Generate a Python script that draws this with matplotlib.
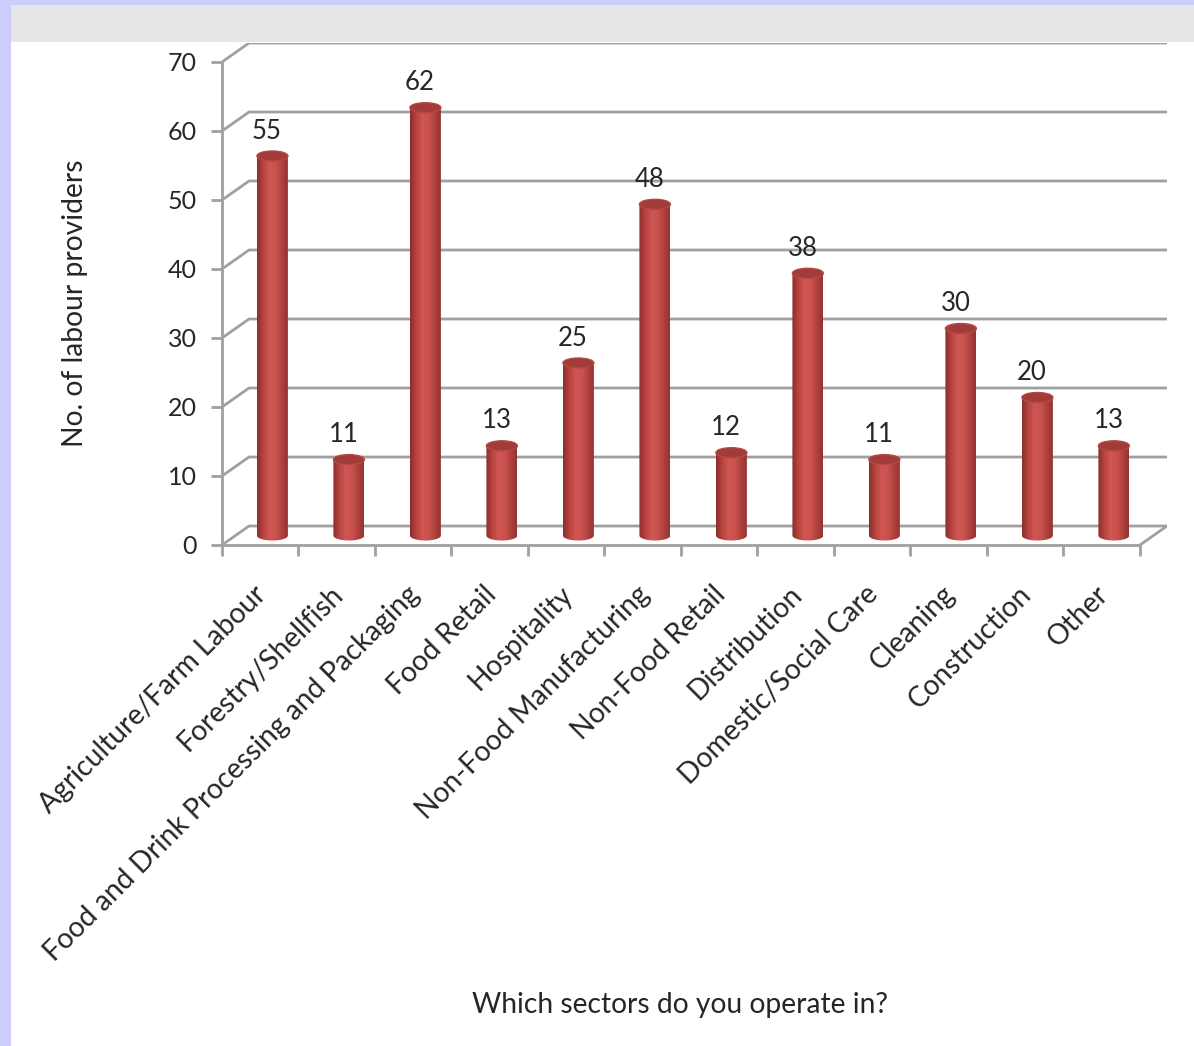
import matplotlib
matplotlib.use("Agg")
import matplotlib.pyplot as plt
import matplotlib.transforms as mtransforms
import numpy as np
from matplotlib.patches import Rectangle, Ellipse, PathPatch
from matplotlib.path import Path
from matplotlib.colors import LinearSegmentedColormap

plt.rcParams['font.family'] = ['Lato', 'DejaVu Sans']

sectors = ['Agriculture/Farm Labour', 'Forestry/Shellfish',
           'Food and Drink Processing and Packaging', 'Food Retail',
           'Hospitality', 'Non-Food Manufacturing', 'Non-Food Retail',
           'Distribution', 'Domestic/Social Care', 'Cleaning',
           'Construction', 'Other']
providers = [55, 11, 62, 13, 25, 48, 12, 38, 11, 30, 20, 13]
y_ticks = [0, 10, 20, 30, 40, 50, 60, 70]

W, H = 1194, 1046
fig = plt.figure(figsize=(W / 100, H / 100), dpi=100, facecolor='#ccccff')

# page background: white panel with a grey band on top
fig.add_artist(Rectangle((11 / W, 0), 1, 1 - 42 / H, transform=fig.transFigure,
                         facecolor='white', edgecolor='none', zorder=-10))
fig.add_artist(Rectangle((11 / W, 1 - 42 / H), 1, 37 / H, transform=fig.transFigure,
                         facecolor='#e6e6e6', edgecolor='none', zorder=-10))

n = len(sectors)
dx, dy = 0.353, 2.75          # depth offset of back wall (category units, value units)
bw = 0.405                     # cylinder width
eh = 1.45                      # ellipse height of caps
grid_c = '#a0a0a0'
txt_c = '#262626'

ax = fig.add_axes([222 / W, 1 - 545 / H, 945 / W, 502 / H])
ax.set_facecolor('none')

# back wall grid lines with diagonal on the side wall
for v in y_ticks:
    ax.plot([0, dx, n + dx], [v, v + dy, v + dy], color=grid_c, lw=2, zorder=1,
            solid_capstyle='butt')
# floor right edge
ax.plot([n + dx, n], [dy, 0], color=grid_c, lw=2, zorder=1)

for s in ['top', 'right']:
    ax.spines[s].set_visible(False)
for s in ['left', 'bottom']:
    ax.spines[s].set_color(grid_c)
    ax.spines[s].set_linewidth(2)
ax.spines['left'].set_bounds(0, y_ticks[-1])
ax.spines['bottom'].set_bounds(0, n)

ax.set_yticks(y_ticks)
ax.set_yticklabels([str(v) for v in y_ticks], fontsize=18, color=txt_c)
ax.set_xticks(np.arange(n + 1))
ax.set_xticklabels([])
ax.tick_params(axis='both', which='major', length=8, width=2, color=grid_c)
ax.tick_params(axis='y', pad=10)

# category labels, rotated 45 degrees
lab_tr = mtransforms.blended_transform_factory(ax.transData, ax.transAxes) + \
    mtransforms.ScaledTranslation(-7 / 100, -36 / 100, fig.dpi_scale_trans)
for i, name in enumerate(sectors):
    ax.text(i + 0.5, 0, name, transform=lab_tr, rotation=45, ha='right', va='top',
            rotation_mode='anchor', fontsize=20.3, color=txt_c)

# cylinders
cmap = LinearSegmentedColormap.from_list(
    'cyl', ['#8a2e2c', '#b8433f', '#cf5652', '#cb534f', '#b1423f', '#923431'])
grad = np.linspace(0, 1, 64).reshape(1, -1)
for i, v in enumerate(providers):
    cx = i + 0.5 + dx * 0.45
    yb = dy / 2
    yt = v + dy / 2
    x0, x1 = cx - bw / 2, cx + bw / 2
    t = np.linspace(np.pi, 2 * np.pi, 40)
    bottom = np.column_stack([cx + (bw / 2) * np.cos(t)[::-1] * -1,
                              yb + (eh / 2) * np.sin(t)])
    bottom = bottom[np.argsort(bottom[:, 0])]
    verts = np.vstack([[x0, yt], bottom, [x1, yt], [x0, yt]])
    body = PathPatch(Path(verts), facecolor='none', edgecolor='none',
                     transform=ax.transData)
    ax.add_patch(body)
    im = ax.imshow(grad, extent=[x0, x1, yb - eh, yt], aspect='auto', cmap=cmap,
                   zorder=3, interpolation='bilinear')
    im.set_clip_path(body)
    ax.add_patch(Ellipse((cx, yt), bw, eh, facecolor='#a13c39',
                         edgecolor='#b54845', lw=1, zorder=4))
    ax.text(cx - 0.07, yt + 3.6, str(v), ha='center', va='center',
            fontsize=18.5, color=txt_c, zorder=5)

ax.set_xlim(0, n + dx)
ax.set_ylim(0, y_ticks[-1] + dy)

fig.text(680 / W, 1 - 1005 / H, 'Which sectors do you operate in?', ha='center',
         va='center', fontsize=20.3, color=txt_c)
fig.text(75 / W, 1 - 303 / H, 'No. of labour providers', ha='center', va='center',
         rotation=90, fontsize=20.3, color=txt_c)

fig.savefig('out.png', dpi=100, facecolor=fig.get_facecolor())
